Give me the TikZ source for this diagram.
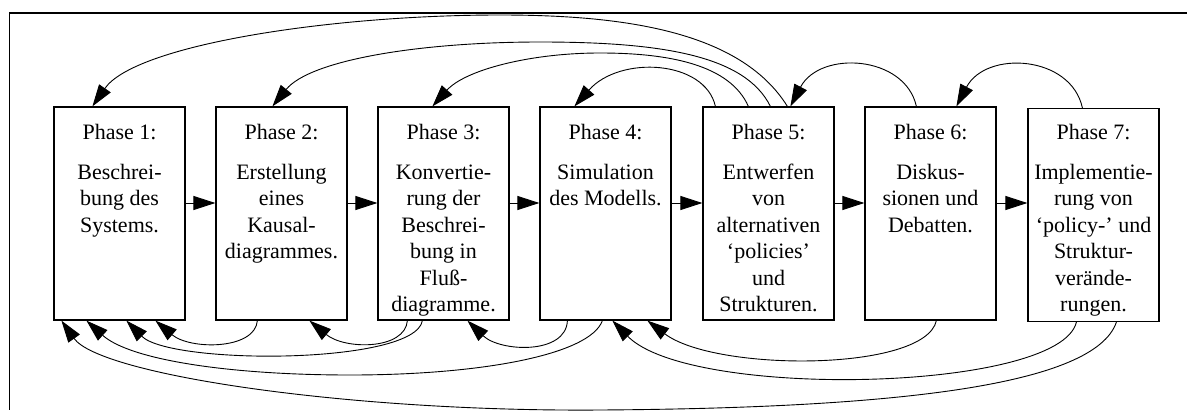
\documentclass[tikz,border=0pt]{standalone}
\usepackage{fontspec}
\setmainfont{Liberation Serif}
\usetikzlibrary{arrows.meta}
\begin{document}
\begin{tikzpicture}[x=1pt, y=-1pt,
  phasebox/.style={draw, line width=1.2pt, minimum width=131pt, minimum height=213pt, inner sep=0pt},
  phasetext/.style={anchor=north, align=center, inner sep=0pt, font=\fontsize{22}{26.5}\selectfont},
  flow/.style={line width=0.9pt, -{Triangle[length=22pt,width=14pt]}},
  frameline/.style={line width=1.8pt}]
\useasboundingbox (0,0) rectangle (1187,410);

% outer frame (open to the right and bottom)
\draw[frameline] (1187,12.7) -- (9.5,12.7) -- (9.5,410);

% the seven phases
\node[phasebox] (b1) at (119.5,213.5) {};
\node[phasebox] (b2) at (281.5,213.5) {};
\node[phasebox] (b3) at (443.5,213.5) {};
\node[phasebox] (b4) at (605.5,213.5) {};
\node[phasebox] (b5) at (768.5,213.5) {};
\node[phasebox] (b6) at (930.5,213.5) {};
\node[phasebox] (b7) at (1093.5,215) {};

\node[phasetext] (t1) at (119.5,124) {Phase 1:\\[13.5pt]Beschrei-\\bung des\\Systems.};
\node[phasetext] (t2) at (281.5,124) {Phase 2:\\[13.5pt]Erstellung\\eines\\Kausal-\\diagrammes.};
\node[phasetext] (t3) at (443.5,124) {Phase 3:\\[13.5pt]Konvertie-\\rung der\\Beschrei-\\bung in\\Fluß-\\diagramme.};
\node[phasetext] (t4) at (605.5,124) {Phase 4:\\[13.5pt]Simulation\\des Modells.};
\node[phasetext] (t5) at (768.5,124) {Phase 5:\\[13.5pt]Entwerfen\\von\\alternativen\\‘policies’\\und\\Strukturen.};
\node[phasetext] (t6) at (930.5,124) {Phase 6:\\[13.5pt]Diskus-\\sionen und\\Debatten.};
\node[phasetext] (t7) at (1093.5,124) {Phase 7:\\[13.5pt]Implementie-\\rung von\\‘policy-’ und\\Struktur-\\verände-\\rungen.};

% forward sequence
\coordinate (row) at (0,203);
\draw[flow] (b1.east |- row) -- (b2.west |- row);
\draw[flow] (b2.east |- row) -- (b3.west |- row);
\draw[flow] (b3.east |- row) -- (b4.west |- row);
\draw[flow] (b4.east |- row) -- (b5.west |- row);
\draw[flow] (b5.east |- row) -- (b6.west |- row);
\draw[flow] (b6.east |- row) -- (b7.west |- row);

% feedback over the top
\draw[flow] ([xshift=85pt]b5.north west) .. controls (740,30) and (620,15) .. (500,15)
            .. controls (330,15) and (135,45) .. ([xshift=39pt]b1.north west);
\draw[flow] ([xshift=68pt]b5.north west) .. controls (745,55) and (660,42) .. (540,42)
            .. controls (420,42) and (310,60) .. ([xshift=57pt]b2.north west);
\draw[flow] ([xshift=46pt]b5.north west) .. controls (730,65) and (670,53) .. (600,53)
            .. controls (530,53) and (465,70) .. ([xshift=55pt]b3.north west);
\draw[flow] ([xshift=13pt]b5.north west) .. controls (705,60) and (620,55) .. ([xshift=35pt]b4.north west);
\draw[flow] ([xshift=52pt]b6.north west) .. controls (905,55) and (820,50) .. ([xshift=88pt]b5.north west);
\draw[flow] ([xshift=55pt]b7.north west) .. controls (1071,55) and (986,50) .. ([xshift=92pt]b6.north west);

% feedback underneath
\draw[flow] ([xshift=42pt]b2.south west) .. controls (255,350) and (190,350) .. ([xshift=102pt]b1.south west);
\draw[flow] ([xshift=30pt]b3.south west) .. controls (405,350) and (345,350) .. ([xshift=94pt]b2.south west);
\draw[flow] ([xshift=45pt]b3.south west) .. controls (415,365) and (170,365) .. ([xshift=73pt]b1.south west);
\draw[flow] ([xshift=28pt]b4.south west) .. controls (566,355) and (500,352) .. ([xshift=90pt]b3.south west);
\draw[flow] ([xshift=63pt]b4.south west) .. controls (590,355) and (480,375) .. (350,375)
            .. controls (230,375) and (130,360) .. ([xshift=33pt]b1.south west);
\draw[flow] ([xshift=72pt]b6.south west) .. controls (925,372) and (715,372) .. ([xshift=108pt]b4.south west);
\draw[flow] ([xshift=49pt]b7.south west) .. controls (1060,392) and (690,400) .. ([xshift=73pt]b4.south west);
\draw[flow] ([xshift=89pt]b7.south west) .. controls (1095,385) and (900,408) .. (600,410)
            .. controls (350,412) and (100,375) .. ([xshift=8pt]b1.south west);
\end{tikzpicture}
\end{document}
